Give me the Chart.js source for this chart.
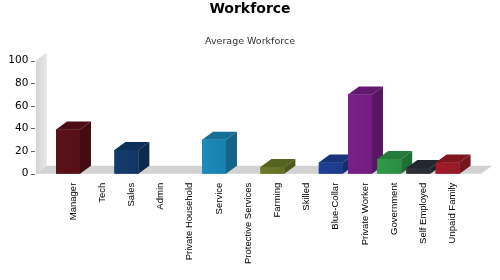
<!DOCTYPE html>
<html>
<head>
<meta charset="utf-8">
<script src="https://cdn.jsdelivr.net/npm/chart.js@4/dist/chart.umd.min.js"></script>
<style>
  html, body { margin: 0; padding: 0; background: #fff; }
  #wrap { width: 500px; height: 280px; }
</style>
</head>
<body>
<div id="wrap"><canvas id="chart"></canvas></div>
<script>
const categories = ['Manager', 'Tech', 'Sales', 'Admin', 'Private Household', 'Service',
    'Protective Services', 'Farming', 'Skilled', 'Blue-Collar', 'Private Worker',
    'Government', 'Self Employed', 'Unpaid Family'];
const workforce = [39, 0, 21, 0, 0, 30, 0, 6, 0, 10, 70, 13, 5, 10];
const yTicks = [0, 20, 40, 60, 80, 100];

const barColors = ['#5c1119', '#333333', '#123b6d', '#333333', '#333333', '#1a8bbb',
    '#333333', '#6b7a27', '#333333', '#1f3f97', '#7b1f8a', '#2f9a48', '#2c3039', '#a11c28'];

// depth of the fake 3d
const DX = 11, DY = 8;

function shade(hex, f) {
    const n = parseInt(hex.slice(1), 16);
    const r = Math.round(((n >> 16) & 255) * f);
    const g = Math.round(((n >> 8) & 255) * f);
    const b = Math.round((n & 255) * f);
    return `rgb(${r},${g},${b})`;
}

function poly(ctx, pts, fill) {
    ctx.beginPath();
    ctx.moveTo(pts[0][0], pts[0][1]);
    for (let i = 1; i < pts.length; i++) ctx.lineTo(pts[i][0], pts[i][1]);
    ctx.closePath();
    ctx.fillStyle = fill;
    ctx.fill();
}

const room3d = {
    id: 'room3d',
    beforeDatasetsDraw(chart) {
        const ctx = chart.ctx;
        const a = chart.chartArea;
        const y = chart.scales.y;
        const top = y.getPixelForValue(100);
        const bot = y.getPixelForValue(0);
        const wl = a.left - 17.5;
        ctx.save();
        // back wall
        const g = ctx.createLinearGradient(wl, 0, wl + DX, 0);
        g.addColorStop(0, '#d4d4d4');
        g.addColorStop(1, '#e8e8e8');
        poly(ctx, [[wl, bot], [wl, top], [wl + DX, top - DY], [wl + DX, bot - DY]], g);
        // floor
        poly(ctx, [[wl, bot], [wl + DX, bot - DY], [a.right + 30, bot - DY], [a.right + 19, bot]], '#d2d2d2');
        // tick marks
        ctx.strokeStyle = '#666';
        ctx.lineWidth = 1;
        yTicks.forEach(v => {
            const py = Math.round(y.getPixelForValue(v)) + 0.5;
            ctx.beginPath();
            ctx.moveTo(wl - 5, py);
            ctx.lineTo(wl - 1, py);
            ctx.stroke();
        });
        ctx.restore();
    },
    afterDatasetsDraw(chart) {
        const ctx = chart.ctx;
        const meta = chart.getDatasetMeta(0);
        ctx.save();
        meta.data.forEach((bar, i) => {
            if (!workforce[i]) return;
            const p = bar.getProps(['x', 'y', 'base', 'width'], true);
            const l = p.x - p.width / 2, r = p.x + p.width / 2;
            const c = barColors[i];
            const fg = ctx.createLinearGradient(l, 0, r, 0);
            fg.addColorStop(0, shade(c, 1.0));
            fg.addColorStop(1, shade(c, 0.92));
            poly(ctx, [[l, p.base], [l, p.y], [r, p.y], [r, p.base]], fg);
            poly(ctx, [[l, p.y], [l + DX, p.y - DY], [r + DX, p.y - DY], [r, p.y]], shade(c, 0.8));
            poly(ctx, [[r, p.y], [r + DX, p.y - DY], [r + DX, p.base - DY], [r, p.base]], shade(c, 0.72));
        });
        ctx.restore();
    }
};

new Chart(document.getElementById('chart'), {
    type: 'bar',
    data: {
        labels: categories,
        datasets: [{
            label: 'Average Workforce',
            data: workforce,
            backgroundColor: barColors,
            categoryPercentage: 1,
            barPercentage: 0.82
        }]
    },
    options: {
        responsive: true,
        maintainAspectRatio: false,
        animation: false,
        layout: { padding: 0 },
        plugins: {
            legend: { display: false },
            tooltip: { enabled: false },
            title: {
                display: true,
                text: 'Workforce',
                color: '#000',
                font: { family: 'DejaVu Sans', size: 14, weight: 'bold' },
                padding: { top: 1, bottom: 18 }
            },
            subtitle: {
                display: true,
                text: 'Average Workforce',
                color: '#333',
                font: { family: 'DejaVu Sans', size: 9.5 },
                padding: { top: 0, bottom: 13.3 }
            }
        },
        scales: {
            x: {
                grid: { display: false, drawTicks: false },
                border: { display: false },
                ticks: {
                    autoSkip: false,
                    minRotation: 90,
                    maxRotation: 90,
                    labelOffset: 5,
                    padding: 9,
                    color: '#000',
                    font: { family: 'Liberation Sans', size: 9.5 }
                },
                afterFit: s => { s.height = 106.3; }
            },
            y: {
                min: 0,
                max: 100,
                grid: { display: false, drawTicks: false },
                border: { display: false },
                afterBuildTicks: s => { s.ticks = yTicks.map(v => ({ value: v })); },
                ticks: {
                    padding: 25,
                    color: '#000',
                    font: { family: 'DejaVu Sans', size: 10.5 }
                },
                afterFit: s => { s.width = 53.4; }
            },
            // empty right axis, only keeps room for the 3d floor
            yRight: {
                position: 'right',
                min: 0,
                max: 100,
                grid: { display: false, drawTicks: false },
                border: { display: false },
                ticks: { display: false },
                afterFit: s => { s.width = 37.8; }
            }
        }
    },
    plugins: [room3d]
});
</script>
</body>
</html>
